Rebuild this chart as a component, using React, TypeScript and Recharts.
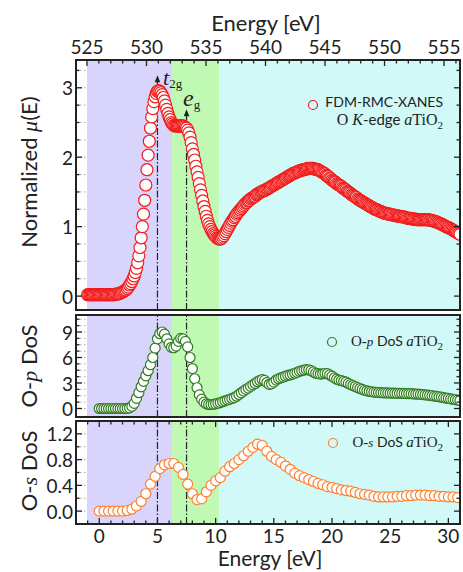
import React from 'react';
import {
  ScatterChart,
  Scatter,
  XAxis,
  YAxis,
  CartesianGrid,
  ReferenceArea,
  ReferenceLine,
  ReferenceDot,
} from 'recharts';

const SANS = 'Lato, "Open Sans", sans-serif';
const SERIF = '"Liberation Serif", "DejaVu Serif", serif';
const INK = '#222';

// FDM-RMC-XANES, sampled from -1 eV every 0.1 eV
const xanesStart = -1;
const xanesStep = 0.1;
const xanesMu = [
  0.02, 0.02, 0.02, 0.02, 0.02, 0.02, 0.02, 0.02, 0.02, 0.02,
  0.02, 0.02, 0.02, 0.02, 0.02, 0.02, 0.02, 0.02, 0.02, 0.02,
  0.02, 0.02, 0.02, 0.02, 0.03, 0.03, 0.03, 0.04, 0.04, 0.05,
  0.06, 0.07, 0.08, 0.09, 0.11, 0.13, 0.16, 0.18, 0.21, 0.25,
  0.29, 0.34, 0.40, 0.48, 0.58, 0.70, 0.84, 1.00, 1.18, 1.38,
  1.60, 1.82, 2.03, 2.23, 2.42, 2.58, 2.70, 2.80, 2.87, 2.92,
  2.95, 2.96, 2.95, 2.93, 2.90, 2.86, 2.81, 2.75, 2.69, 2.63,
  2.58, 2.54, 2.50, 2.48, 2.46, 2.45, 2.45, 2.45, 2.45, 2.45,
  2.45, 2.45, 2.45, 2.44, 2.43, 2.42, 2.39, 2.35, 2.29, 2.21,
  2.12, 2.04, 1.96, 1.87, 1.79, 1.71, 1.62, 1.53, 1.45, 1.37,
  1.29, 1.22, 1.15, 1.09, 1.04, 1.00, 0.96, 0.93, 0.90, 0.88,
  0.86, 0.84, 0.83, 0.82, 0.82, 0.83, 0.85, 0.87, 0.90, 0.93,
  0.96, 0.99, 1.02, 1.05, 1.08, 1.10, 1.13, 1.15, 1.18, 1.20,
  1.22, 1.24, 1.26, 1.28, 1.30, 1.32, 1.34, 1.35, 1.37, 1.38,
  1.40, 1.41, 1.42, 1.43, 1.44, 1.46, 1.47, 1.48, 1.49, 1.50,
  1.51, 1.52, 1.52, 1.53, 1.54, 1.55, 1.56, 1.57, 1.58, 1.59,
  1.60, 1.61, 1.62, 1.63, 1.64, 1.65, 1.66, 1.67, 1.68, 1.69,
  1.70, 1.71, 1.72, 1.73, 1.74, 1.75, 1.76, 1.77, 1.77, 1.78,
  1.79, 1.80, 1.80, 1.81, 1.81, 1.82, 1.82, 1.83, 1.83, 1.84,
  1.84, 1.84, 1.84, 1.84, 1.84, 1.83, 1.83, 1.82, 1.82, 1.81,
  1.80, 1.79, 1.78, 1.77, 1.76, 1.74, 1.73, 1.72, 1.70, 1.69,
  1.67, 1.66, 1.65, 1.64, 1.62, 1.61, 1.60, 1.59, 1.58, 1.56,
  1.55, 1.54, 1.53, 1.51, 1.50, 1.49, 1.48, 1.46, 1.45, 1.44,
  1.43, 1.42, 1.40, 1.39, 1.38, 1.37, 1.36, 1.35, 1.34, 1.33,
  1.32, 1.31, 1.30, 1.29, 1.28, 1.27, 1.26, 1.25, 1.25, 1.24,
  1.23, 1.22, 1.22, 1.21, 1.20, 1.20, 1.19, 1.19, 1.18, 1.18,
  1.18, 1.17, 1.17, 1.17, 1.16, 1.16, 1.16, 1.15, 1.15, 1.15,
  1.14, 1.14, 1.14, 1.13, 1.13, 1.12, 1.12, 1.12, 1.12, 1.11,
  1.11, 1.11, 1.11, 1.10, 1.10, 1.10, 1.10, 1.10, 1.10, 1.10,
  1.10, 1.10, 1.10, 1.10, 1.09, 1.09, 1.09, 1.08, 1.08, 1.07,
  1.07, 1.06, 1.05, 1.04, 1.04, 1.03, 1.02, 1.01, 1.00, 0.99,
  0.99, 0.98, 0.97, 0.96, 0.95, 0.94, 0.93, 0.92, 0.91, 0.90,
  0.89,
];

// O-p DoS, from 0 eV every 0.2 eV
const opStart = 0;
const opStep = 0.2;
const opDos = [
  0, 0, 0, 0, 0,
  0, 0, 0, 0, 0,
  0, 0, 0.02, 0.08, 0.25,
  0.6, 1.2, 1.86, 2.55, 3.2,
  3.85, 4.45, 5.15, 6.0, 7.1,
  8.2, 8.8, 9.0, 8.75, 8.2,
  7.6, 7.2, 7.15, 7.35, 7.9,
  8.25, 8.2, 7.9, 7.25, 6.0,
  4.7, 3.5, 2.44, 1.6, 1.1,
  0.75, 0.55, 0.48, 0.47, 0.5,
  0.55, 0.62, 0.7, 0.8, 0.9,
  1.0, 1.08, 1.18, 1.28, 1.45,
  1.65, 1.85, 2.05, 2.25, 2.4,
  2.6, 2.78, 2.95, 3.15, 3.3,
  3.4, 3.3, 3.05, 2.85, 2.9,
  3.1, 3.35, 3.5, 3.6, 3.7,
  3.8, 3.9, 3.95, 4.05, 4.15,
  4.25, 4.37, 4.45, 4.52, 4.57,
  4.55, 4.45, 4.3, 4.15, 4.1,
  4.05, 4.08, 4.12, 4.1, 3.95,
  3.8, 3.6, 3.45, 3.35, 3.28,
  3.2, 3.1, 2.95, 2.82, 2.7,
  2.58, 2.46, 2.35, 2.25, 2.15,
  2.08, 2.02, 1.97, 1.93, 1.9,
  1.88, 1.86, 1.85, 1.84, 1.83,
  1.82, 1.81, 1.8, 1.79, 1.78,
  1.77, 1.77, 1.76, 1.75, 1.74,
  1.72, 1.7, 1.68, 1.66, 1.63,
  1.6, 1.57, 1.54, 1.5, 1.46,
  1.42, 1.38, 1.33, 1.28, 1.23,
  1.18, 1.13, 1.08, 1.03, 0.99,
  0.95,
];

// O-s DoS, from 0 eV every 0.4 eV
const osStart = 0;
const osStep = 0.4;
const osDos = [
  0, 0, 0, 0, 0, 0, 0.01, 0.03, 0.08, 0.15,
  0.27, 0.42, 0.54, 0.66, 0.72, 0.74, 0.74, 0.68, 0.57, 0.42,
  0.27, 0.18, 0.19, 0.3, 0.4, 0.47, 0.52, 0.62, 0.69, 0.74,
  0.8, 0.86, 0.93, 0.99, 1.04, 1.02, 0.93, 0.85, 0.8, 0.76,
  0.7, 0.65, 0.59, 0.55, 0.52, 0.49, 0.46, 0.43, 0.41, 0.38,
  0.37, 0.35, 0.33, 0.32, 0.31, 0.29, 0.27, 0.26, 0.25, 0.23,
  0.22, 0.22, 0.22, 0.22, 0.23, 0.23, 0.24, 0.24, 0.25, 0.25,
  0.25, 0.24, 0.24, 0.23, 0.23, 0.22, 0.22, 0.21,
];

const energyTicks = [
  -1, 0, 1, 2, 3, 4, 5, 6, 7, 8, 9, 10, 11, 12, 13, 14, 15,
  16, 17, 18, 19, 20, 21, 22, 23, 24, 25, 26, 27, 28, 29, 30,
];
const absEnergyTicks = [
  525, 526, 527, 528, 529, 530, 531, 532, 533, 534, 535, 536, 537, 538, 539, 540,
  541, 542, 543, 544, 545, 546, 547, 548, 549, 550, 551, 552, 553, 554, 555, 556,
];
const muTicks = [0, 0.25, 0.5, 0.75, 1, 1.25, 1.5, 1.75, 2, 2.25, 2.5, 2.75, 3, 3.25];
const opTicks = [0, 0.75, 1.5, 2.25, 3, 3.75, 4.5, 5.25, 6, 6.75, 7.5, 8.25, 9, 9.75, 10.5];
const osTicks = [0, 0.2, 0.4, 0.6, 0.8, 1.0, 1.2];

const bands = [
  { x1: -1.05, x2: 6.25, fill: '#d8d4fb' },
  { x1: 6.25, x2: 10.3, fill: '#c0f9b4' },
  { x1: 10.3, x2: 31, fill: '#d0f9f8' },
];
const t2gEnergy = 5;
const egEnergy = 7.5;
const t2gTip = 3.18;
const egTip = 2.69;

const toPoints = (start: number, step: number, ys: number[]) =>
  ys.map((y, i) => ({ x: +(start + i * step).toFixed(2), y }));

const xanesData = toPoints(xanesStart, xanesStep, xanesMu);
const opData = toPoints(opStart, opStep, opDos);
const osData = toPoints(osStart, osStep, osDos);
// invisible anchors so the absolute-energy axis gets its own scale
const absAnchors = absEnergyTicks.map((x) => ({ x, y: 0 }));

const W = 463;
const PLOT_L = 76;
const PLOT_R = 460;
const X_DOMAIN: [number, number] = [-2, 31];
const ABS_DOMAIN: [number, number] = [524.08, 556.34];

const near = (v: number, step: number) => Math.abs(v / step - Math.round(v / step)) < 1e-6;

function makeXTick(plotTop: number, plotBottom: number, drawTop: boolean, drawBottom: boolean, labelY?: number) {
  return (props: any) => {
    const { x, payload } = props;
    const v = payload.value;
    const major = near(v, 5);
    const len = major ? 6 : 3.5;
    return (
      <g>
        {drawTop && <line x1={x} x2={x} y1={plotTop} y2={plotTop + len} stroke={INK} strokeWidth={1.3} />}
        {drawBottom && <line x1={x} x2={x} y1={plotBottom} y2={plotBottom - len} stroke={INK} strokeWidth={1.3} />}
        {labelY !== undefined && major && (
          <text x={x} y={labelY} textAnchor="middle" dominantBaseline="central" fontFamily={SANS} fontSize={19} fill={INK}>
            {v}
          </text>
        )}
      </g>
    );
  };
}

function makeYTick(majorStep: number, fmt: (v: number) => string) {
  return (props: any) => {
    const { y, payload } = props;
    const v = payload.value;
    const major = near(v, majorStep);
    const len = major ? 6 : 3.5;
    return (
      <g>
        <line x1={PLOT_L} x2={PLOT_L + len} y1={y} y2={y} stroke={INK} strokeWidth={1.3} />
        <line x1={PLOT_R} x2={PLOT_R - len} y1={y} y2={y} stroke={INK} strokeWidth={1.3} />
        {major && (
          <text x={73} y={y} textAnchor="end" dominantBaseline="central" fontFamily={SANS} fontSize={19} fill={INK}>
            {fmt(v)}
          </text>
        )}
      </g>
    );
  };
}

const ring = (color: string, r: number) => (p: any) => (
  <circle cx={p.cx} cy={p.cy} r={r} fill="#fff" stroke={color} strokeWidth={1.2} />
);
const nothing = () => <g />;

const arrowHead = (p: any) => (
  <path d={`M${p.cx},${p.cy} l-2.8,7 l5.6,0 z`} fill={INK} />
);

type PanelProps = {
  top: number;
  height: number;
  marginTop: number;
  marginBottom: number;
  xHeight: number;
  plotTop: number;
  plotBottom: number;
  data: { x: number; y: number }[];
  color: string;
  r: number;
  yDomain: [number, number];
  yTicks: number[];
  yMajor: number;
  yFmt: (v: number) => string;
  topAxis?: boolean;
  bottomLabels?: boolean;
  children?: React.ReactNode;
};

function Panel(p: PanelProps) {
  return (
    <>
      <div style={{ position: 'absolute', left: 0, top: p.top }}>
        <ScatterChart
          width={W}
          height={p.height}
          margin={{ top: p.marginTop, right: W - PLOT_R, bottom: p.marginBottom, left: 0 }}
        >
          {bands.map((b) => (
            <ReferenceArea
              key={b.x1}
              xAxisId="b"
              x1={b.x1}
              x2={b.x2}
              y1={p.yDomain[0]}
              y2={p.yDomain[1]}
              fill={b.fill}
              fillOpacity={1}
              stroke="none"
              ifOverflow="hidden"
            />
          ))}
          <CartesianGrid xAxisId="b" stroke="#707070" strokeOpacity={0.6} strokeDasharray="1.5 2.5" />
          {p.topAxis && (
            <XAxis
              xAxisId="t"
              orientation="top"
              dataKey="x"
              type="number"
              domain={ABS_DOMAIN}
              allowDataOverflow
              ticks={absEnergyTicks}
              interval={0}
              height={60}
              axisLine={false}
              tickLine={false}
              tick={makeXTick(60, 310, true, false, 46)}
            />
          )}
          <XAxis
            xAxisId="b"
            dataKey="x"
            type="number"
            domain={X_DOMAIN}
            allowDataOverflow
            ticks={energyTicks}
            interval={0}
            height={p.xHeight}
            axisLine={false}
            tickLine={false}
            tick={makeXTick(p.plotTop, p.plotBottom, !p.topAxis, true, p.bottomLabels ? 116 : undefined)}
          />
          <YAxis
            dataKey="y"
            type="number"
            domain={p.yDomain}
            allowDataOverflow
            ticks={p.yTicks}
            interval={0}
            width={PLOT_L}
            axisLine={false}
            tickLine={false}
            tick={makeYTick(p.yMajor, p.yFmt)}
          />
          {p.children}
          {p.topAxis && (
            <Scatter xAxisId="t" data={absAnchors} shape={nothing} isAnimationActive={false} />
          )}
          <Scatter xAxisId="b" data={p.data} shape={ring(p.color, p.r)} isAnimationActive={false} />
        </ScatterChart>
      </div>
      <div
        style={{
          position: 'absolute',
          left: PLOT_L - 1,
          top: p.top + p.plotTop - 1,
          width: PLOT_R - PLOT_L + 2,
          height: p.plotBottom - p.plotTop + 2,
          border: `2px solid ${INK}`,
          boxSizing: 'border-box',
          pointerEvents: 'none',
        }}
      />
    </>
  );
}

const dashDot = '7 2 1.5 2';

export default function App() {
  return (
    <div style={{ position: 'absolute', left: 0, top: 0, width: W, height: 572, background: '#fff', overflow: 'hidden' }}>
      <Panel
        top={0}
        height={312}
        marginTop={0}
        marginBottom={2}
        xHeight={0}
        plotTop={60}
        plotBottom={310}
        data={xanesData}
        color="#f21c1c"
        r={6}
        yDomain={[-0.2, 3.4]}
        yTicks={muTicks}
        yMajor={1}
        yFmt={(v) => String(v)}
        topAxis
      >
        <ReferenceLine xAxisId="b" segment={[{ x: t2gEnergy, y: -0.2 }, { x: t2gEnergy, y: t2gTip - 0.08 }]} stroke={INK} strokeWidth={1.2} strokeDasharray={dashDot} />
        <ReferenceLine xAxisId="b" segment={[{ x: egEnergy, y: -0.2 }, { x: egEnergy, y: egTip - 0.08 }]} stroke={INK} strokeWidth={1.2} strokeDasharray={dashDot} />
        <ReferenceDot xAxisId="b" x={t2gEnergy} y={t2gTip} shape={arrowHead} />
        <ReferenceDot xAxisId="b" x={egEnergy} y={egTip} shape={arrowHead} />
      </Panel>
      <Panel
        top={313}
        height={106}
        marginTop={2}
        marginBottom={2}
        xHeight={0}
        plotTop={2}
        plotBottom={104}
        data={opData}
        color="#2f7d1f"
        r={5}
        yDomain={[-1, 11]}
        yTicks={opTicks}
        yMajor={3}
        yFmt={(v) => String(v)}
      >
        <ReferenceLine xAxisId="b" x={t2gEnergy} stroke={INK} strokeWidth={1.2} strokeDasharray={dashDot} />
        <ReferenceLine xAxisId="b" x={egEnergy} stroke={INK} strokeWidth={1.2} strokeDasharray={dashDot} />
      </Panel>
      <Panel
        top={419}
        height={153}
        marginTop={2}
        marginBottom={0}
        xHeight={48}
        plotTop={2}
        plotBottom={105}
        data={osData}
        color="#ff8030"
        r={5}
        yDomain={[-0.2, 1.4]}
        yTicks={osTicks}
        yMajor={0.4}
        yFmt={(v) => v.toFixed(1)}
        bottomLabels
      >
        <ReferenceLine xAxisId="b" x={t2gEnergy} stroke={INK} strokeWidth={1.2} strokeDasharray={dashDot} />
        <ReferenceLine xAxisId="b" x={egEnergy} stroke={INK} strokeWidth={1.2} strokeDasharray={dashDot} />
      </Panel>

      <svg width={W} height={572} style={{ position: 'absolute', left: 0, top: 0, pointerEvents: 'none' }}>
        <text x={266} y={31} textAnchor="middle" fontFamily={SANS} fontSize={22} fill={INK}>Energy [eV]</text>
        <text x={270} y={566} textAnchor="middle" fontFamily={SANS} fontSize={21} fill={INK}>Energy [eV]</text>

        <text transform="translate(37,172) rotate(-90)" textAnchor="middle" fontFamily={SANS} fontSize={22} fill={INK}>
          Normalized <tspan fontFamily={SERIF} fontStyle="italic">μ</tspan>(E)
        </text>
        <text transform="translate(37,366) rotate(-90)" textAnchor="middle" fontFamily={SANS} fontSize={22} fill={INK}>
          O-<tspan fontFamily={SERIF} fontStyle="italic">p</tspan> DoS
        </text>
        <text transform="translate(37,471) rotate(-90)" textAnchor="middle" fontFamily={SANS} fontSize={22} fill={INK}>
          O-<tspan fontFamily={SERIF} fontStyle="italic">s</tspan> DoS
        </text>

        <text x={163} y={85} fontFamily={SERIF} fontStyle="italic" fontSize={22} fill={INK}>
          t<tspan fontStyle="normal" fontSize={13} dy={3}>2g</tspan>
        </text>
        <text x={183} y={106} fontFamily={SERIF} fontStyle="italic" fontSize={24} fill={INK}>
          e<tspan fontStyle="normal" fontSize={13} dy={3}>g</tspan>
        </text>

        <circle cx={313} cy={105} r={4.5} fill="none" stroke="#f21c1c" strokeWidth={1.2} />
        <text x={443} y={107} textAnchor="end" fontFamily={SANS} fontSize={14} fill={INK}>FDM-RMC-XANES</text>
        <text x={443} y={125} textAnchor="end" fontFamily={SERIF} fontSize={16} fill={INK}>
          O <tspan fontStyle="italic">K</tspan>
          <tspan fontFamily={SANS} fontSize={15}>-edge </tspan>
          <tspan fontStyle="italic">a</tspan>TiO<tspan fontSize={11} dy={4}>2</tspan>
        </text>

        <circle cx={332} cy={342} r={4.5} fill="none" stroke="#2f7d1f" strokeWidth={1.2} />
        <text x={443} y={346} textAnchor="end" fontFamily={SERIF} fontSize={15} fill={INK}>
          O-<tspan fontStyle="italic" fontSize={13}>p</tspan>
          <tspan fontFamily={SANS} fontSize={14}> DoS </tspan>
          <tspan fontStyle="italic">a</tspan>TiO<tspan fontSize={11} dy={4}>2</tspan>
        </text>

        <circle cx={333} cy={443} r={4.5} fill="none" stroke="#ff8030" strokeWidth={1.2} />
        <text x={443} y={447} textAnchor="end" fontFamily={SERIF} fontSize={15} fill={INK}>
          O-<tspan fontStyle="italic" fontSize={13}>s</tspan>
          <tspan fontFamily={SANS} fontSize={14}> DoS </tspan>
          <tspan fontStyle="italic">a</tspan>TiO<tspan fontSize={11} dy={4}>2</tspan>
        </text>
      </svg>
    </div>
  );
}
